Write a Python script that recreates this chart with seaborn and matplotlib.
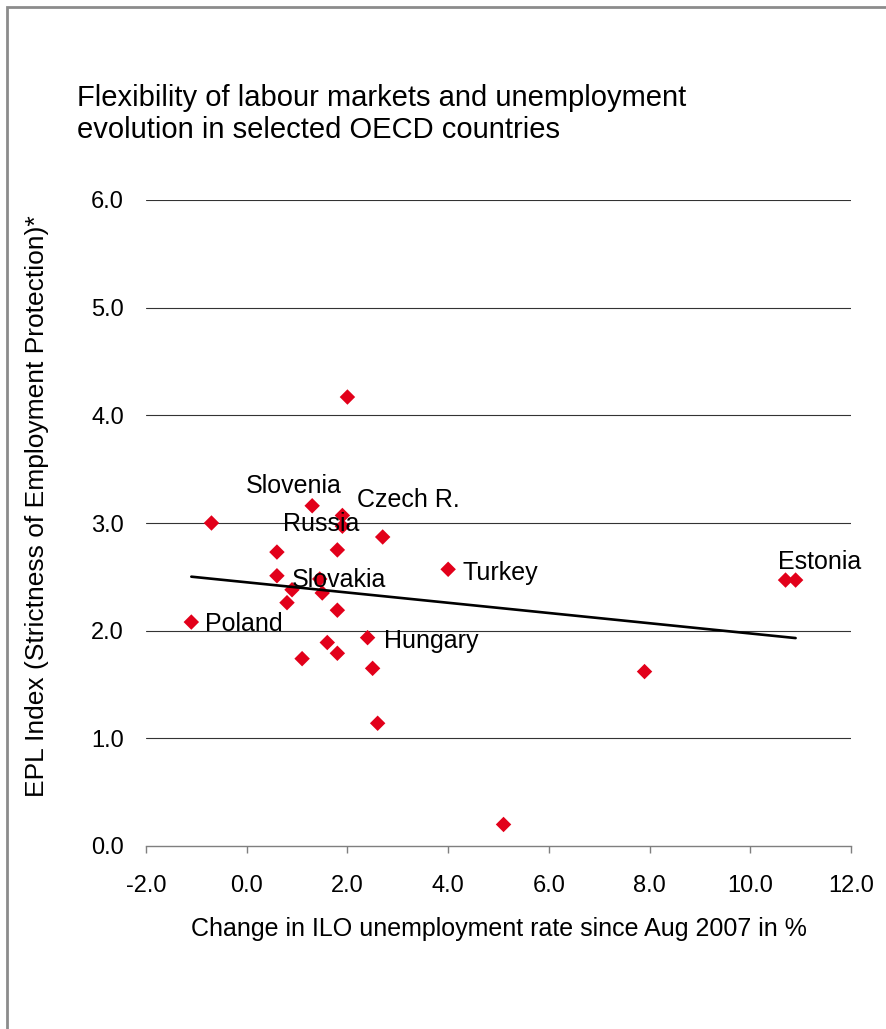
import matplotlib
matplotlib.use("Agg")
import matplotlib.pyplot as plt
import seaborn as sns
import pandas as pd
from matplotlib.patches import Rectangle

# Change in ILO unemployment rate since Aug 2007 (%) and EPL index per country
unemp_change = [2.0, 1.3, 1.9, 1.9, -0.7, 0.6, 1.8, 2.7, 4.0, 0.6, 1.45, 0.9, 1.5,
                0.8, 1.8, -1.1, 2.4, 1.6, 1.8, 1.1, 2.5, 2.6, 5.1, 7.9, 10.7, 10.9]
epl_index = [4.17, 3.16, 3.07, 2.97, 3.0, 2.73, 2.75, 2.87, 2.57, 2.51, 2.48, 2.38, 2.35,
             2.26, 2.19, 2.08, 1.935, 1.89, 1.79, 1.74, 1.65, 1.14, 0.2, 1.62, 2.47, 2.47]
country = ["", "Slovenia", "Czech R.", "Russia", "", "", "", "", "Turkey", "", "", "Slovakia", "",
           "", "", "Poland", "Hungary", "", "", "", "", "", "", "", "", "Estonia"]

x_ticks = [-2.0, 0.0, 2.0, 4.0, 6.0, 8.0, 10.0, 12.0]
y_ticks = [0.0, 1.0, 2.0, 3.0, 4.0, 5.0, 6.0]

df = pd.DataFrame({"unemp": unemp_change, "epl": epl_index, "country": country})

sns.set_theme(style="white")
plt.rcParams["font.family"] = ["Liberation Sans", "DejaVu Sans"]
plt.rcParams["text.color"] = "black"
plt.rcParams["xtick.color"] = "black"
plt.rcParams["ytick.color"] = "black"
plt.rcParams["axes.labelcolor"] = "black"

W, H = 887, 1029
fig = plt.figure(figsize=(W / 100, H / 100), dpi=100)
ax = fig.add_axes([146 / W, 1 - 846 / H, (851 - 146) / W, (846 - 200) / H])

# country markers and the least-squares trend line
sns.scatterplot(data=df, x="unemp", y="epl", marker="D", s=62, color="#E2001A",
                edgecolor="none", linewidth=0, ax=ax, zorder=3)
sns.regplot(data=df, x="unemp", y="epl", scatter=False, ci=None, ax=ax,
            line_kws={"color": "black", "lw": 1.9, "zorder": 4})

ax.set_xlim(-2, 12)
ax.set_ylim(0, 6)
ax.set_xticks(x_ticks)
ax.set_yticks(y_ticks)
ax.set_xticklabels([f"{v:.1f}" for v in x_ticks])
ax.set_yticklabels([f"{v:.1f}" for v in y_ticks])

for v in y_ticks[1:]:
    ax.axhline(v, color="#333333", lw=0.8, zorder=1)

for side in ["top", "right", "left"]:
    ax.spines[side].set_visible(False)
ax.spines["bottom"].set_color("#7f7f7f")
ax.spines["bottom"].set_linewidth(1.0)
ax.tick_params(axis="x", which="major", direction="out", length=5, width=1.0,
               color="#7f7f7f", labelcolor="black", labelsize=17, pad=16, bottom=True)
ax.tick_params(axis="y", length=0, labelsize=17, labelcolor="black", pad=16)

ax.set_xlabel("Change in ILO unemployment rate since Aug 2007 in %", fontsize=18,
              labelpad=14, color="black")
ax.set_ylabel("")
fig.text(37 / W, 1 - 506 / H, "EPL Index (Strictness of Employment Protection)*",
         rotation=90, ha="center", va="center", fontsize=19, color="black")

# country name labels (offsets in pixels from each marker)
label_place = {
    "Slovenia": (-18, 20, "center", "center"),
    "Czech R.": (66, 15, "center", "center"),
    "Russia": (-21, 2, "center", "center"),
    "Slovakia": (0, 10, "left", "center"),
    "Poland": (14, -2, "left", "center"),
    "Hungary": (16, -3, "left", "center"),
    "Turkey": (14, -4, "left", "center"),
    "Estonia": (24, 18, "center", "center"),
}
for xv, yv, name in zip(unemp_change, epl_index, country):
    if name:
        dx, dy, ha, va = label_place[name]
        ax.annotate(name, (xv, yv), xytext=(dx, dy), textcoords="offset pixels",
                    ha=ha, va=va, fontsize=18, color="black", zorder=5)

fig.text(77 / W, 1 - 114 / H,
         "Flexibility of labour markets and unemployment\nevolution in selected OECD countries",
         ha="left", va="center", fontsize=21, linespacing=1.22, color="black")

# chart frame
fig.patches.append(Rectangle((7 / W, -0.1), 1.2, 1 - 7 / H + 0.1, transform=fig.transFigure,
                             fill=False, edgecolor="#8c8c8c", lw=2.0))

fig.savefig("out.png", dpi=100, facecolor="white")
